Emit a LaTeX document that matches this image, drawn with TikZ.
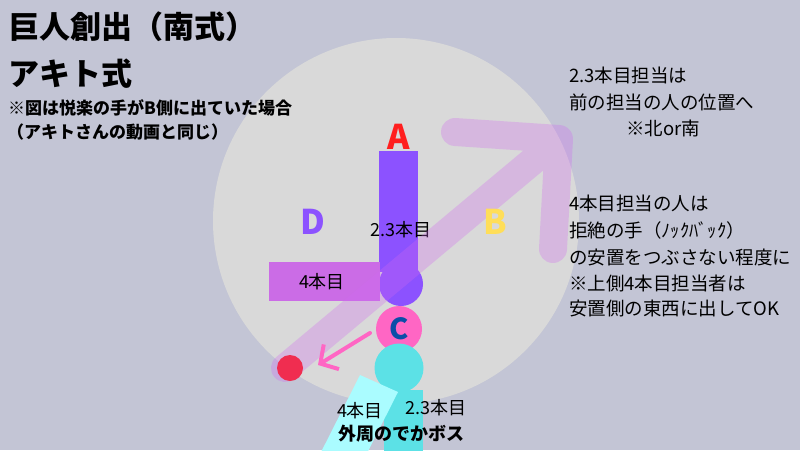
\documentclass[tikz,border=0pt]{standalone}
\usepackage{fontspec}
\setmainfont{Noto Sans CJK JP}
\usetikzlibrary{arrows.meta}
\definecolor{bgc}{HTML}{C3C5D5}
\definecolor{circc}{HTML}{D9D9D9}
\definecolor{purpA}{HTML}{8C52FF}
\definecolor{purpD}{HTML}{CB6CE6}
\definecolor{arrowc}{RGB}{208,105,240}
\definecolor{redc}{HTML}{F02D50}
\definecolor{pinkc}{HTML}{FF66C4}
\definecolor{tealc}{HTML}{5CE1E6}
\definecolor{cyanc}{HTML}{AAFCFF}
\definecolor{letA}{HTML}{FF1F1F}
\definecolor{letB}{HTML}{FFDE59}
\definecolor{letC}{HTML}{0B4EA8}
\tikzset{
  txt/.style={inner sep=0pt, anchor=west, text=black},
  ctxt/.style={inner sep=0pt, text=black},
  letter/.style={inner sep=0pt, font=\bfseries\fontsize{34}{34}\selectfont},
  bigarrow/.style={draw=arrowc, draw opacity=0.3, line width=28pt, line cap=round, line join=round},
  pinkline/.style={draw=pinkc, line width=4pt, line cap=round, line join=round},
}
\newcommand{\fsz}[1]{\fontsize{#1}{#1}\selectfont}
\begin{document}
\begin{tikzpicture}[x=1pt,y=-1pt]
\useasboundingbox (0,0) rectangle (800,450);
\fill[bgc] (0,0) rectangle (800,450);
\fill[circc] (396,221) circle (183);

% A column
\fill[purpA] (379,151) rectangle (418,272);
\node[circle, fill=purpA, minimum size=44pt, inner sep=0pt] (pc) at (401,284) {};
\fill[purpD] (269,262) rectangle (380,301);
\node[ctxt, font=\fsz{18}] (t23) at (401,230) {2.3本目};
\node[ctxt, font=\fsz{18}] (t4) at (322,282) {4本目};

% big arrow
\coordinate (ast) at (285,368);
\coordinate (atip) at (559,139);
\coordinate (ah1) at (455,132);
\coordinate (ah2) at (553,249);
\draw[bigarrow] (ast) -- (atip) (ah1) -- (atip) -- (ah2);

% letters
\node[letter, text=letA] (la) at (399,137) {A};
\node[letter, text=purpA] (ld) at (313,222) {D};
\node[letter, text=letB] (lb) at (495,222) {B};

% red dot, C
\node[circle, fill=redc, minimum size=26pt, inner sep=0pt] (red) at (290,368) {};
\node[circle, fill=pinkc, minimum size=46pt, inner sep=0pt, text=letC, font=\bfseries\fsz{29}] (c) at (399,329) {C};

% bottom boss
\fill[tealc] (384,390) rectangle (423,455);
\node[circle, fill=tealc, minimum size=49pt, inner sep=0pt] (tc) at (399,368) {};
\fill[cyanc] (360,375) -- (398,392) -- (353,481) -- (315,464) -- cycle;

% pink arrow
\coordinate (ps) at (370,333);
\coordinate (pe) at (318,365);
\draw[pinkline, -{Straight Barb[length=13pt, width=29pt, line width=4pt]}] (ps) -- (pe);

% bottom texts
\node[ctxt, font=\fsz{18}] (b4) at (360,411) {4本目};
\node[ctxt, font=\fsz{18}] (b23) at (436,408) {2.3本目};
\node[ctxt, font=\bfseries\fsz{18}] (boss) at (401,434) {外周のでかボス};

% title
\node[txt, font=\bfseries\fsz{31}] (ti1) at (8,27) {巨人創出（南式）};
\node[txt, font=\bfseries\fsz{31}] (ti2) at (8,74) {アキト式};
\node[txt, font=\bfseries\fsz{17}] (ti3) at (8,108) {※図は悦楽の手がB側に出ていた場合};
\node[txt, font=\bfseries\fsz{17}] (ti4) at (7,132) {（アキトさんの動画と同じ）};

% right notes
\node[txt, font=\fsz{18.5}] (r1) at (569,75) {2.3本目担当は};
\node[txt, font=\fsz{18.5}] (r2) at (569,102) {前の担当の人の位置へ};
\node[txt, font=\fsz{18.5}] (r3) at (626,128) {※北or南};
\node[txt, font=\fsz{18.5}] (s1) at (569,203) {4本目担当の人は};
\node[txt, font=\fsz{18.5}] (s2) at (569,230) {拒絶の手（ﾉｯｸﾊﾞｯｸ）};
\node[txt, font=\fsz{18.5}] (s3) at (569,257) {の安置をつぶさない程度に};
\node[txt, font=\fsz{18.5}] (s4) at (569,283) {※上側4本目担当者は};
\node[txt, font=\fsz{18.5}] (s5) at (569,308) {安置側の東西に出してOK};
\end{tikzpicture}
\end{document}
